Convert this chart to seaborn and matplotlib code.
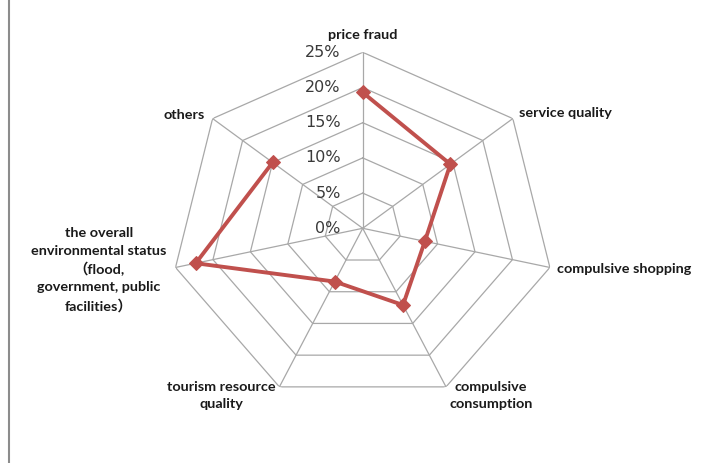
import numpy as np
import pandas as pd
import matplotlib
matplotlib.use("Agg")
import matplotlib.pyplot as plt
from matplotlib.lines import Line2D
import seaborn as sns

# Complaint categories and their shares (%)
categories = [
    "price fraud",
    "service quality",
    "compulsive shopping",
    "compulsive consumption",
    "tourism resource quality",
    "the overall environmental status（flood, government, public facilities）",
    "others",
]
shares = [19.3, 14.6, 8.3, 12.1, 8.4, 22.3, 15.0]
ring_values = [0, 5, 10, 15, 20, 25]
ring_labels = ["0%", "5%", "10%", "15%", "20%", "25%"]

sns.set_theme(style="white")
plt.rcParams["font.family"] = ["Lato", "Noto Sans CJK SC", "DejaVu Sans"]

W, H = 719, 463
fig = plt.figure(figsize=(W / 100, H / 100), dpi=100)

# plot area: centre (363, 228) px, radius 192 px across and 176 px up/down
cx, cy, rx, ry = 362.7, 228.3, 192.0, 176.0
ax = fig.add_axes([(cx - rx) / W, (H - cy - ry) / H, 2 * rx / W, 2 * ry / H],
                  projection="polar")
ax.set_aspect("auto")
ax.set_theta_zero_location("N")
ax.set_theta_direction(-1)
ax.set_ylim(0, 25)
ax.grid(False)
ax.set_xticks([])
ax.set_yticks([])
ax.spines["polar"].set_visible(False)
ax.set_facecolor("none")

n = len(categories)
angles = np.arange(n) * 2 * np.pi / n
closed = np.append(angles, angles[0])

grid_color = "#a8a8a8"
# polygonal rings
for r in ring_values[1:]:
    ax.plot(closed, [r] * (n + 1), color=grid_color, lw=0.9, zorder=1)
# spokes
for a in angles:
    ax.plot([a, a], [0, 25], color=grid_color, lw=0.9, zorder=1)

# radial value labels along the top spoke
for r, lab in zip(ring_values, ring_labels):
    ax.annotate(lab, xy=(0, r), xytext=(-22, 0), textcoords="offset pixels",
                ha="right", va="center", fontsize=11.5, color="#3a3a3a",
                family=["DejaVu Sans"])

df = pd.DataFrame({"angle": np.append(angles, angles[0]),
                   "share": shares + [shares[0]]})
sns.lineplot(data=df, x="angle", y="share", sort=False, ax=ax,
             color="#C0504D", lw=2.8, marker="D", markersize=7,
             markeredgecolor="#C0504D", zorder=3, legend=False)
ax.set_xlabel("")
ax.set_ylabel("")
ax.set_xticks([])
ax.set_yticks([])
ax.set_ylim(0, 25)

lab_kw = dict(fontsize=10.4, fontweight="bold", color="#1a1a1a")


def px_text(x, y, s, ha="center", **kw):
    fig.text(x / W, 1 - y / H, s, ha=ha, va="center", **lab_kw, **kw)


px_text(363, 35, categories[0])
px_text(519, 113, categories[1], ha="left")
px_text(557, 269, categories[2], ha="left")
px_text(491, 387, "compulsive")
px_text(491, 404, "consumption")
px_text(221, 387, "tourism resource")
px_text(221, 404, "quality")
for yy, line in zip([233, 251, 269, 287, 306],
                    ["the overall", "environmental status", "（flood,",
                     "government, public", "facilities）"]):
    px_text(99, yy, line)
px_text(184, 115, categories[6])

# chart frame edge
fig.add_artist(Line2D([8.5 / W, 8.5 / W], [0, 1], transform=fig.transFigure,
                      color="#8c8c8c", lw=1.5))

fig.savefig("out.png", dpi=100, facecolor="white")
